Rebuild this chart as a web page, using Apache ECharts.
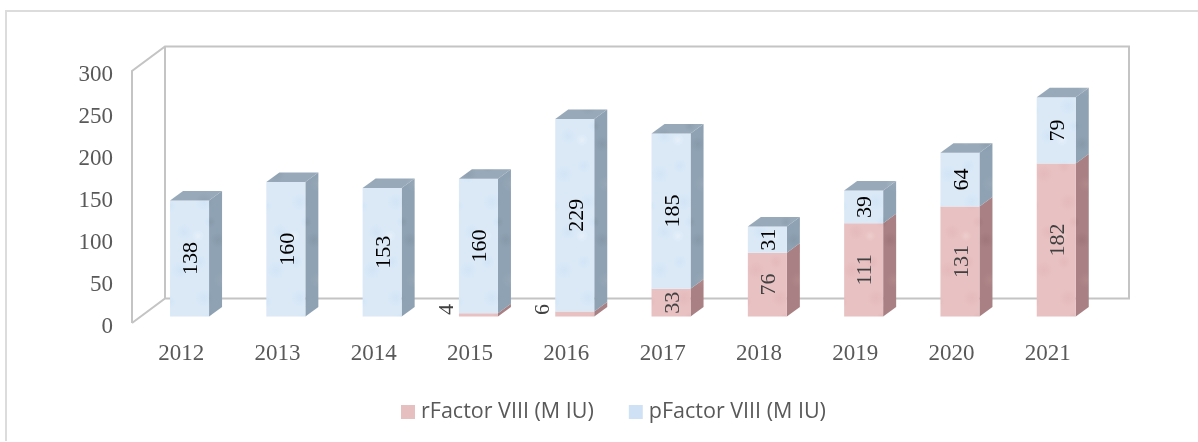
<!DOCTYPE html>
<html>
<head>
<meta charset="utf-8">
<style>
  html, body { margin: 0; padding: 0; background: #fff; }
  #chart { width: 1198px; height: 442px; }
</style>
<script src="https://cdn.jsdelivr.net/npm/echarts@6/dist/echarts.min.js"></script>
</head>
<body>
<div id="chart"></div>
<script>
const years = ['2012', '2013', '2014', '2015', '2016', '2017', '2018', '2019', '2020', '2021'];
const rFactor = [0, 0, 0, 4, 6, 33, 76, 111, 131, 182];
const pFactor = [138, 160, 153, 160, 229, 185, 31, 39, 64, 79];
const yTicks = { min: 0, max: 300, interval: 50 };

// soft blotches, fixed spots so the pattern looks the same on every load
const blotches = [
  [12, 10, 9], [44, 22, 11], [26, 48, 8], [64, 60, 12], [8, 70, 7], [52, 84, 9], [74, 14, 6], [30, 88, 8],
  [88, 40, 8], [40, 64, 6], [18, 30, 6], [60, 38, 7], [84, 78, 9], [6, 44, 6], [70, 92, 6], [36, 6, 5]
];

function texture(base, light, dark) {
  const c = document.createElement('canvas');
  c.width = c.height = 96;
  const ctx = c.getContext('2d');
  ctx.fillStyle = base;
  ctx.fillRect(0, 0, 96, 96);
  blotches.forEach((b, i) => {
    const rgb = i % 2 ? light : dark;
    const g = ctx.createRadialGradient(b[0], b[1], 0, b[0], b[1], b[2]);
    g.addColorStop(0, 'rgba(' + rgb + ',0.55)');
    g.addColorStop(1, 'rgba(' + rgb + ',0)');
    ctx.fillStyle = g;
    ctx.fillRect(0, 0, 96, 96);
  });
  return { image: c, repeat: 'repeat' };
}

const pinkFront = texture('#e8c1c2', '242,214,214', '226,180,182');
const pinkSide = texture('#a98083', '182,142,144', '152,114,118');
const blueFront = texture('#dbe9f7', '238,245,252', '202,225,245');
const blueSide = texture('#8fa2b3', '156,172,186', '128,146,162');
const blueTop = texture('#98aaba', '172,186,198', '136,154,170');

const barWidth = 39;
const depthX = 13;
const depthY = 9.5;
const barShiftX = 8.4;
const barShiftY = -6.5;
const wallX = 33;
const wallY = 24.5;
const lblFont = '22px "Liberation Serif", serif';

function quad(pts, fill) {
  return { type: 'polygon', shape: { points: pts }, style: { fill: fill }, silent: true };
}

function renderBar(front, side, textColor, withTop) {
  return function (params, api) {
    const i = api.value(0);
    const base = api.value(1);
    const val = api.value(2);
    if (!val) return { type: 'group', children: [] };
    const p0 = api.coord([i, base]);
    const p1 = api.coord([i, base + val]);
    const xl = p0[0] + barShiftX - barWidth / 2;
    const xr = xl + barWidth;
    const yb = p0[1] + barShiftY;
    const yt = p1[1] + barShiftY;
    const kids = [
      quad([[xr, yb], [xr + depthX, yb - depthY], [xr + depthX, yt - depthY], [xr, yt]], side),
      quad([[xl, yb], [xr, yb], [xr, yt], [xl, yt]], front)
    ];
    if (withTop) {
      kids.push(quad([[xl, yt], [xr, yt], [xr + depthX, yt - depthY], [xl + depthX, yt - depthY]], blueTop));
    }
    // tiny segments get their number outside the bar, left of it
    const small = val < 10;
    kids.push({
      type: 'text',
      x: small ? xl - 12 : (xl + xr) / 2 + 2,
      y: small ? yb - 7 : (yb + yt) / 2,
      rotation: Math.PI / 2,
      style: {
        text: String(val),
        font: lblFont,
        fill: small ? '#404040' : textColor,
        align: 'center',
        verticalAlign: 'middle'
      },
      silent: true
    });
    return { type: 'group', children: kids };
  };
}

function renderWalls(params, api) {
  const bl = api.coord([0, 0]);
  const tl = api.coord([0, 300]);
  const left = bl[0] - 96.3 / 2 - 1;
  const right = 1129;
  const line = pts => ({
    type: 'polyline',
    shape: { points: pts },
    style: { stroke: '#c4c4c4', lineWidth: 2, fill: null },
    silent: true
  });
  const backL = left + wallX;
  return {
    type: 'group',
    children: [
      line([[left, bl[1]], [left, tl[1]], [backL, tl[1] - wallY], [right, tl[1] - wallY], [right, bl[1] - wallY], [backL, bl[1] - wallY], [left, bl[1]]]),
      line([[backL, tl[1] - wallY], [backL, bl[1] - wallY]])
    ]
  };
}

const rData = years.map((y, i) => [i, 0, rFactor[i]]);
const pData = years.map((y, i) => [i, rFactor[i], pFactor[i]]);

const chart = echarts.init(document.getElementById('chart'));
chart.setOption({
  animation: false,
  backgroundColor: '#fff',
  graphic: [
    { type: 'polyline', shape: { points: [[6, 441], [6, 11], [1198, 11]] }, style: { stroke: '#dcdcdc', lineWidth: 2, fill: null }, silent: true }
  ],
  legend: {
    left: 396,
    top: 396,
    data: ['rFactor VIII (M IU)', 'pFactor VIII (M IU)'],
    icon: 'rect',
    itemWidth: 14,
    itemHeight: 14,
    itemGap: 35,
    selectedMode: false,
    textStyle: { color: '#595959', fontSize: 21.5, fontFamily: '"Open Sans", sans-serif', padding: [0, 0, 0, 1] }
  },
  grid: { left: 133, top: 71, width: 963, height: 252 },
  xAxis: {
    type: 'category',
    data: years,
    axisLine: { show: false },
    axisTick: { show: false },
    axisLabel: { color: '#595959', fontSize: 23, fontFamily: '"Liberation Serif", serif', margin: 19 }
  },
  yAxis: {
    type: 'value',
    min: yTicks.min,
    max: yTicks.max,
    interval: yTicks.interval,
    axisLine: { show: false },
    axisTick: { show: false },
    splitLine: { show: false },
    axisLabel: {
      margin: 20,
      formatter: '{t|{value}}',
      rich: {
        t: { color: '#595959', fontSize: 23, fontFamily: '"Liberation Serif", serif', padding: [8, 0, 0, 0] }
      }
    }
  },
  series: [
    {
      type: 'custom',
      name: 'walls',
      coordinateSystem: 'cartesian2d',
      renderItem: renderWalls,
      data: [[0, 0]],
      silent: true,
      z: 1
    },
    {
      type: 'custom',
      name: 'rFactor VIII (M IU)',
      coordinateSystem: 'cartesian2d',
      renderItem: renderBar(pinkFront, pinkSide, '#404040', false),
      itemStyle: { color: '#e6bfc0' },
      encode: { x: 0, y: 2 },
      data: rData,
      clip: false,
      z: 2
    },
    {
      type: 'custom',
      name: 'pFactor VIII (M IU)',
      coordinateSystem: 'cartesian2d',
      renderItem: renderBar(blueFront, blueSide, '#000', true),
      itemStyle: { color: '#cfe2f5' },
      encode: { x: 0, y: 2 },
      data: pData,
      clip: false,
      z: 3
    }
  ]
});
</script>
</body>
</html>
